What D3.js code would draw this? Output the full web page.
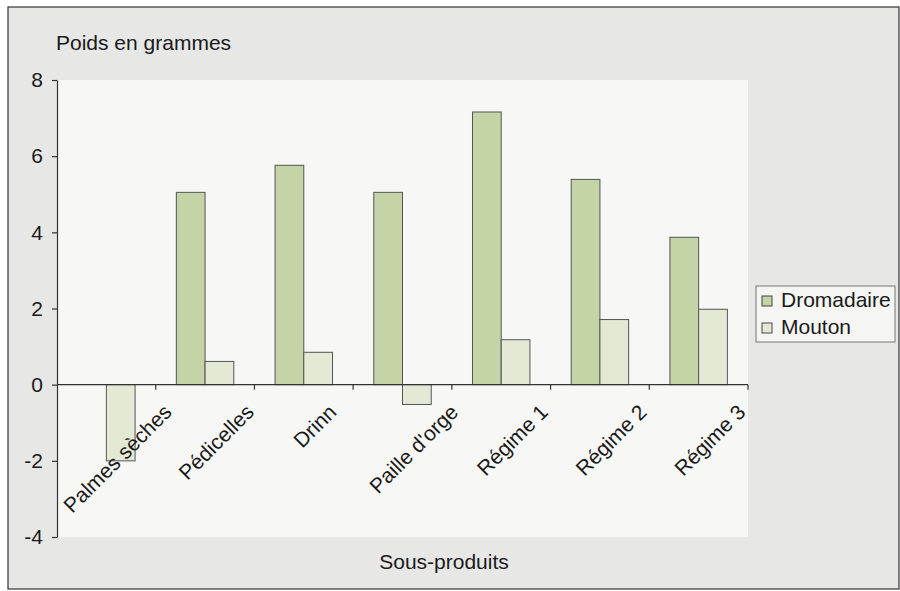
<!DOCTYPE html>
<html>
<head>
<meta charset="utf-8">
<script src="https://cdn.jsdelivr.net/npm/d3@7"></script>
<style>
  html, body { margin: 0; padding: 0; background: #ffffff; }
  svg { display: block; }
  text { font-family: "Liberation Sans", Arial, sans-serif; fill: #1a1a1a; }
</style>
</head>
<body>
<script>
const categories = ["Palmes sèches", "Pédicelles", "Drinn", "Paille d'orge", "Régime 1", "Régime 2", "Régime 3"];
const seriesNames = ["Dromadaire", "Mouton"];
const dromadaire = [0, 5.05, 5.76, 5.05, 7.16, 5.39, 3.87];
const mouton = [-2.0, 0.61, 0.85, -0.52, 1.18, 1.71, 1.98];
const yTicks = [-4, -2, 0, 2, 4, 6, 8];
const yTitle = "Poids en grammes";
const xTitle = "Sous-produits";

const W = 900, H = 591;
const plot = { left: 57, right: 748, top: 80, bottom: 537 };
const colors = { Dromadaire: "#c4d4a6", Mouton: "#e4e9d6" };
const fs = 21;

const svg = d3.select("body").append("svg").attr("width", W).attr("height", H);

// outer chart area
svg.append("rect").attr("x", 8).attr("y", 7).attr("width", 891).attr("height", 582)
  .attr("fill", "#e7e7e6").attr("stroke", "#333").attr("stroke-width", 1.2);

// plot area
svg.append("rect").attr("x", plot.left).attr("y", plot.top)
  .attr("width", plot.right - plot.left).attr("height", plot.bottom - plot.top)
  .attr("fill", "#f7f7f5");

const y = d3.scaleLinear().domain([-4, 8]).range([plot.bottom, plot.top]);
const x0 = d3.scaleBand().domain(categories).range([plot.left, plot.right]).padding(0);
const bw = x0.bandwidth();
const gapOffset = bw * 0.209;
const x1 = d3.scaleBand().domain(seriesNames).range([gapOffset, bw - gapOffset]).padding(0);

const rows = categories.map((c, i) => ({ cat: c, values: [
  { s: "Dromadaire", v: dromadaire[i] },
  { s: "Mouton", v: mouton[i] }
]}));

const groups = svg.append("g").selectAll("g").data(rows).join("g")
  .attr("transform", d => `translate(${x0(d.cat)},0)`);

groups.selectAll("rect").data(d => d.values.filter(e => e.v !== 0)).join("rect")
  .attr("x", d => x1(d.s))
  .attr("width", x1.bandwidth())
  .attr("y", d => y(Math.max(0, d.v)))
  .attr("height", d => Math.abs(y(d.v) - y(0)))
  .attr("fill", d => colors[d.s])
  .attr("stroke", "#555")
  .attr("stroke-width", 1);

// y axis
const yAxis = svg.append("g").attr("transform", `translate(${plot.left},0)`)
  .call(d3.axisLeft(y).tickValues(yTicks).tickFormat(d => String(d))
    .tickSize(5).tickSizeOuter(0).tickPadding(9));
yAxis.select(".domain").attr("stroke", "#333").attr("stroke-width", 1.2);
yAxis.selectAll(".tick line").attr("stroke", "#333").attr("stroke-width", 1.2);
yAxis.selectAll(".tick text").style("font-size", fs + "px").attr("fill", "#1a1a1a")
  .style("font-family", "'Liberation Sans', Arial, sans-serif");

// x axis at zero
const xAxisG = svg.append("g").attr("transform", `translate(0,${y(0)})`);
xAxisG.append("line").attr("x1", plot.left).attr("x2", plot.right).attr("y1", 0).attr("y2", 0)
  .attr("stroke", "#333").attr("stroke-width", 1.2);
xAxisG.selectAll("line.tk").data(categories.slice(1).concat(["__end"])).join("line")
  .attr("class", "tk")
  .attr("x1", d => d === "__end" ? plot.right : x0(d))
  .attr("x2", d => d === "__end" ? plot.right : x0(d))
  .attr("y1", 0).attr("y2", 5)
  .attr("stroke", "#333").attr("stroke-width", 1.2);

// rotated category labels
const labelTop = y(0) + 16;
const labels = svg.append("g").selectAll("text").data(categories).join("text")
  .text(d => d)
  .style("font-size", fs + "px")
  .attr("text-anchor", "middle")
  .attr("dominant-baseline", "central");
labels.each(function(d) {
  const L = this.getComputedTextLength();
  const h = fs * 1.0;
  const cx = x0(d) + bw / 2 + 11;
  const cy = labelTop + (L + h) * Math.SQRT1_2 / 2;
  d3.select(this).attr("transform", `translate(${cx},${cy}) rotate(-45)`);
});

// titles
svg.append("text").attr("x", 56).attr("y", 50).style("font-size", fs + "px").text(yTitle);
svg.append("text").attr("x", 444).attr("y", 569).attr("text-anchor", "middle")
  .style("font-size", fs + "px").text(xTitle);

// legend
const lg = svg.append("g");
lg.append("rect").attr("x", 756).attr("y", 286).attr("width", 139).attr("height", 56)
  .attr("fill", "#f5f5f3").attr("stroke", "#777").attr("stroke-width", 1);
const items = lg.selectAll("g.item").data(seriesNames).join("g").attr("class", "item")
  .attr("transform", (d, i) => `translate(0,${i * 27})`);
items.append("rect").attr("x", 762).attr("y", 296).attr("width", 10).attr("height", 10)
  .attr("fill", d => colors[d]).attr("stroke", "#444").attr("stroke-width", 1);
items.append("text").attr("x", 781).attr("y", 307).style("font-size", fs + "px").text(d => d);
</script>
</body>
</html>
